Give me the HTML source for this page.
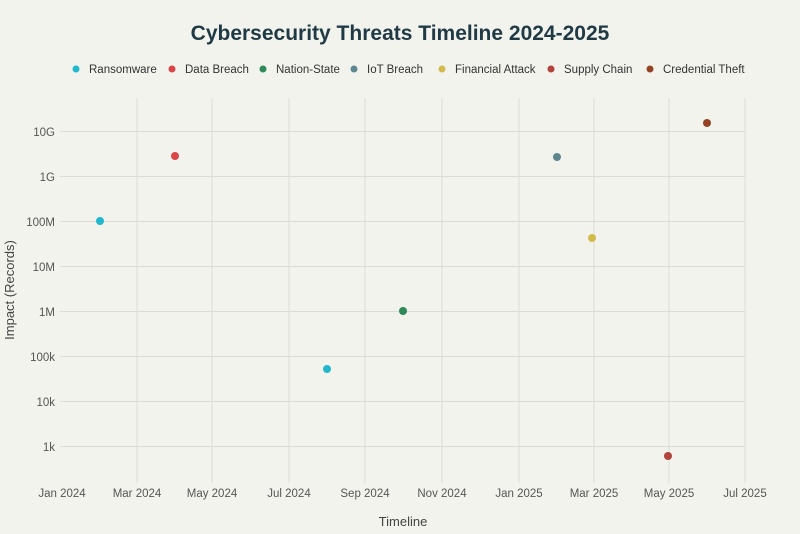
<!DOCTYPE html>
<html><head><meta charset="utf-8"><style>
body{margin:0;background:#f3f3ee;}
svg{display:block;font-family:"Liberation Sans",sans-serif;}
</style></head><body>
<svg width="800" height="534" viewBox="0 0 800 534">
<rect width="800" height="534" fill="#f3f3ee"/>
<text x="400" y="40" text-anchor="middle" font-size="21" font-weight="bold" fill="#1f3a44">Cybersecurity Threats Timeline 2024-2025</text>
<g font-size="11.5" fill="#333">
<circle cx="76" cy="69" r="3.5" fill="#1fb8cd"/><text x="89" y="73">Ransomware</text>
<circle cx="172" cy="69" r="3.5" fill="#db4545"/><text x="185" y="73">Data Breach</text>
<circle cx="263" cy="69" r="3.5" fill="#2e8b57"/><text x="276" y="73">Nation-State</text>
<circle cx="354" cy="69" r="3.5" fill="#5d878f"/><text x="367" y="73">IoT Breach</text>
<circle cx="442" cy="69" r="3.5" fill="#d2ba4c"/><text x="455" y="73">Financial Attack</text>
<circle cx="551" cy="69" r="3.5" fill="#b4413c"/><text x="564" y="73">Supply Chain</text>
<circle cx="650" cy="69" r="3.5" fill="#964325"/><text x="663" y="73">Credential Theft</text>
</g>
<g stroke="#dcdcd6" stroke-width="1">
<line x1="137" y1="98" x2="137" y2="483"/><line x1="212" y1="98" x2="212" y2="483"/>
<line x1="289" y1="98" x2="289" y2="483"/><line x1="365" y1="98" x2="365" y2="483"/>
<line x1="442" y1="98" x2="442" y2="483"/><line x1="519" y1="98" x2="519" y2="483"/>
<line x1="594" y1="98" x2="594" y2="483"/><line x1="669" y1="98" x2="669" y2="483"/>
<line x1="745" y1="98" x2="745" y2="483"/>
<line x1="60" y1="131.5" x2="745" y2="131.5"/><line x1="60" y1="176.5" x2="745" y2="176.5"/>
<line x1="60" y1="221.5" x2="745" y2="221.5"/><line x1="60" y1="266.5" x2="745" y2="266.5"/>
<line x1="60" y1="311.5" x2="745" y2="311.5"/><line x1="60" y1="356.5" x2="745" y2="356.5"/>
<line x1="60" y1="401.5" x2="745" y2="401.5"/><line x1="60" y1="446.5" x2="745" y2="446.5"/>
</g>
<g font-size="11.5" fill="#555" text-anchor="end">
<text x="55" y="136">10G</text><text x="55" y="181">1G</text><text x="55" y="226">100M</text>
<text x="55" y="271">10M</text><text x="55" y="316">1M</text><text x="55" y="361">100k</text>
<text x="55" y="406">10k</text><text x="55" y="451">1k</text>
</g>
<g font-size="11.5" fill="#555" text-anchor="middle">
<text x="62" y="497">Jan 2024</text><text x="137" y="497">Mar 2024</text><text x="212" y="497">May 2024</text>
<text x="289" y="497">Jul 2024</text><text x="365" y="497">Sep 2024</text><text x="442" y="497">Nov 2024</text>
<text x="519" y="497">Jan 2025</text><text x="594" y="497">Mar 2025</text><text x="669" y="497">May 2025</text>
<text x="745" y="497">Jul 2025</text>
</g>
<text x="403" y="526" text-anchor="middle" font-size="13" fill="#444">Timeline</text>
<text transform="translate(14,290) rotate(-90)" text-anchor="middle" font-size="13" fill="#444">Impact (Records)</text>
<circle cx="100" cy="221" r="4" fill="#1fb8cd"/>
<circle cx="327" cy="369" r="4" fill="#1fb8cd"/>
<circle cx="175" cy="156" r="4" fill="#db4545"/>
<circle cx="403" cy="311" r="4" fill="#2e8b57"/>
<circle cx="557" cy="157" r="4" fill="#5d878f"/>
<circle cx="592" cy="238" r="4" fill="#d2ba4c"/>
<circle cx="668" cy="456" r="4" fill="#b4413c"/>
<circle cx="707" cy="123" r="4" fill="#964325"/>
</svg>
</body></html>
